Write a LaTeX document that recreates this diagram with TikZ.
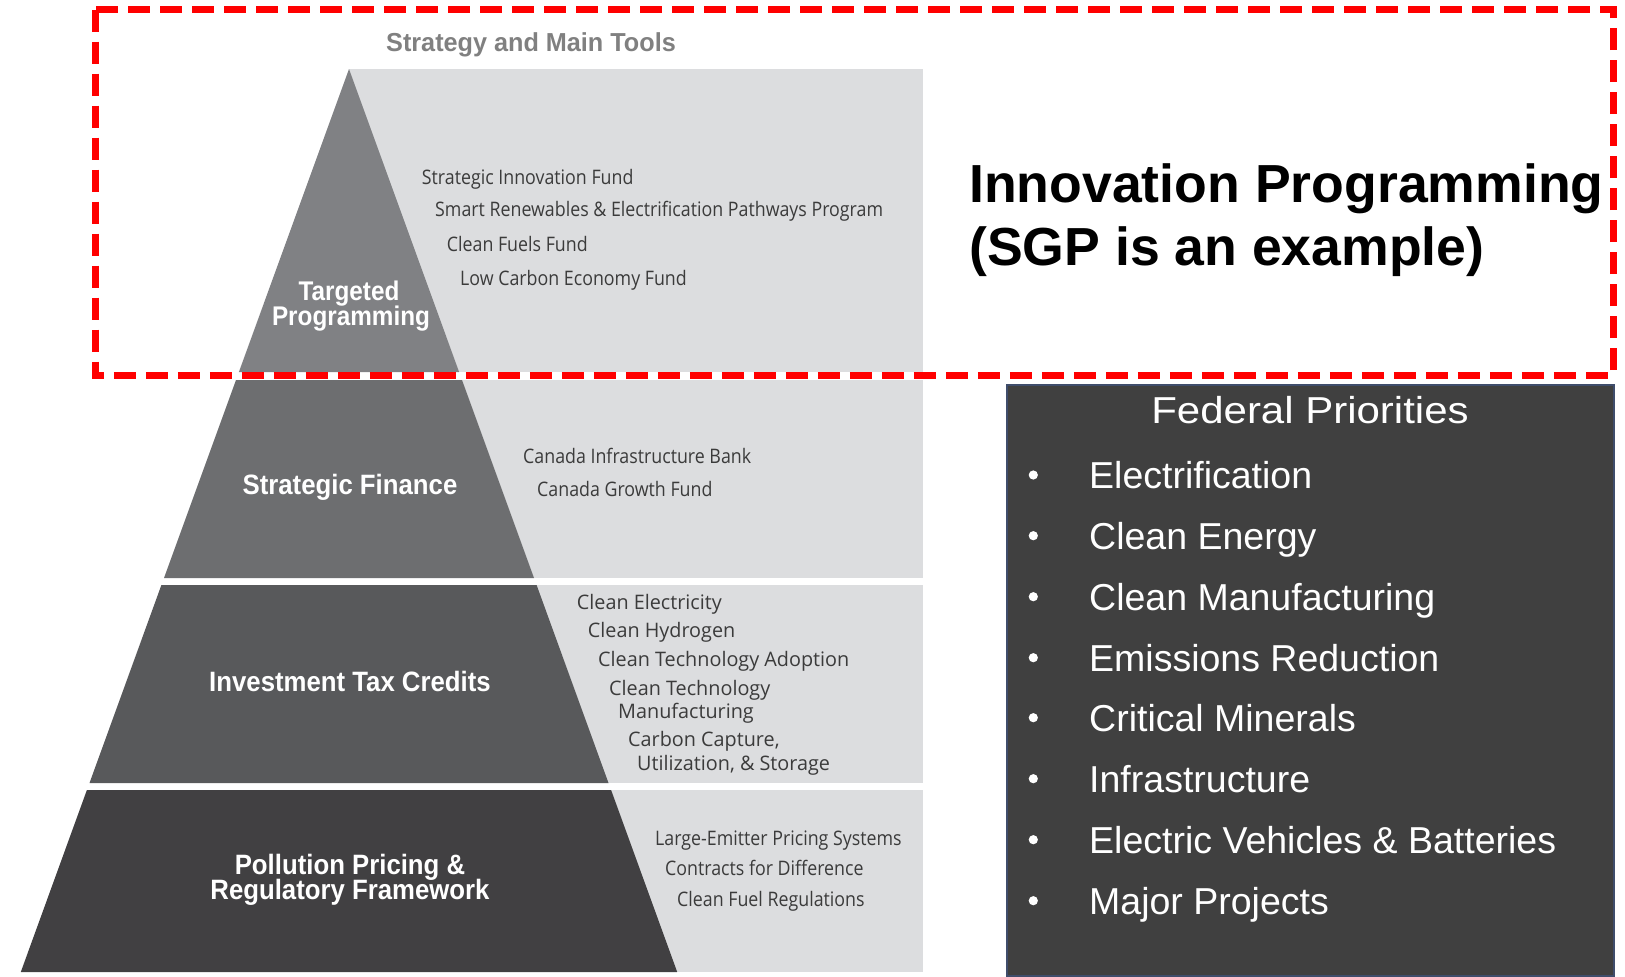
\documentclass[tikz,border=0pt]{standalone}
\usepackage{fontspec}
\setmainfont{Liberation Sans}
\newfontfamily\tierfont{Liberation Sans}[FakeStretch=0.92]
\newfontfamily\tiertopfont{Liberation Sans}[FakeStretch=0.9]
\newfontfamily\headfont{Liberation Sans}[FakeStretch=0.97]
\newfontfamily\toolfont{Open Sans}[FakeStretch=0.89]
\newfontfamily\toolwidefont{Open Sans}[FakeStretch=0.99]
\newfontfamily\fedheadfont{Liberation Sans}[FakeStretch=1.12]
\newfontfamily\fedfont{Liberation Sans}

\definecolor{tierA}{HTML}{808184}
\definecolor{tierB}{HTML}{6D6E70}
\definecolor{tierC}{HTML}{58595B}
\definecolor{tierD}{HTML}{414042}
\definecolor{panelgray}{HTML}{DCDDDF}
\definecolor{headgray}{HTML}{808080}
\definecolor{tooltext}{HTML}{3B3B3B}
\definecolor{fedfill}{HTML}{404040}
\definecolor{fededge}{HTML}{3F4D6B}
\definecolor{dashred}{HTML}{FF0000}

\tikzset{
  tool/.style={anchor=base west, inner sep=0pt, text=tooltext,
    font=\toolfont\fontsize{20}{24}\selectfont},
  toolwide/.style={anchor=base west, inner sep=0pt, text=tooltext,
    font=\toolwidefont\fontsize{20}{24}\selectfont},
  tierlabel/.style={anchor=base, inner sep=0pt, text=white,
    font=\tierfont\bfseries\fontsize{28}{30}\selectfont},
  tiertop/.style={anchor=base, inner sep=0pt, text=white,
    font=\tiertopfont\bfseries\fontsize{27}{30}\selectfont},
  fedhead/.style={anchor=base, inner sep=0pt, text=white,
    font=\fedheadfont\fontsize{37.5}{40}\selectfont},
  feditem/.style={anchor=base west, inner sep=0pt, text=white,
    font=\fedfont\fontsize{37.5}{40}\selectfont},
  bigtext/.style={anchor=base west, inner sep=0pt, text=black,
    font=\bfseries\fontsize{53.6}{60}\selectfont},
}

\begin{document}
\begin{tikzpicture}[x=1pt,y=-1pt]
\fill[white] (0,0) rectangle (1625,977);
\useasboundingbox (0,0) rectangle (1625,977);

% light panels behind each tier
\fill[panelgray] (349,69)  rectangle (923,372);
\fill[panelgray] (349,380) rectangle (923,578);
\fill[panelgray] (349,585) rectangle (923,783);
\fill[panelgray] (349,790) rectangle (923,972);

% pyramid tiers
\fill[tierA] (349,69) -- (459.1,372) -- (238.9,372) -- cycle;
\fill[tierB] (236,380) -- (462,380) -- (534,578) -- (164,578) -- cycle;
\fill[tierC] (161.4,585) -- (536.6,585) -- (608.5,783) -- (89.5,783) -- cycle;
\fill[tierD] (86.9,790) -- (611.1,790) -- (677.2,972) -- (20.8,972) -- cycle;

% heading
\node[anchor=base, inner sep=0pt, text=headgray,
  font=\headfont\bfseries\fontsize{26}{30}\selectfont]
  (head) at (531,51.7) {Strategy and Main Tools};

% tier labels
\node[tiertop] (tp1) at (349,300.7) {Targeted};
\node[tiertop] (tp2) at (351,325) {Programming};
\node[tierlabel] (sf) at (350,494) {Strategic Finance};
\node[tierlabel] (itc) at (350,691) {Investment Tax Credits};
\node[tierlabel] (pp1) at (350,874) {Pollution Pricing \&};
\node[tierlabel] (pp2) at (350,899.5) {Regulatory Framework};

% tools of each tier
\node[tool] (t1a) at (421.7,184)   {Strategic Innovation Fund};
\node[tool] (t1b) at (435,216.7)   {Smart Renewables \& Electrification Pathways Program};
\node[tool] (t1c) at (446.7,251.7) {Clean Fuels Fund};
\node[tool] (t1d) at (460,285)     {Low Carbon Economy Fund};

\node[tool] (t2a) at (523,463.3)   {Canada Infrastructure Bank};
\node[tool] (t2b) at (537,496.7)   {Canada Growth Fund};

\node[toolwide] (t3a) at (576.7,609) {Clean Electricity};
\node[toolwide] (t3b) at (587.7,637) {Clean Hydrogen};
\node[toolwide] (t3c) at (598,666)   {Clean Technology Adoption};
\node[toolwide] (t3d) at (609,695)   {Clean Technology};
\node[toolwide] (t3e) at (618,718)   {Manufacturing};
\node[toolwide] (t3f) at (628,746.7) {Carbon Capture,};
\node[toolwide] (t3g) at (637,770)   {Utilization, \& Storage};

\node[tool] (t4a) at (655,845)   {Large-Emitter Pricing Systems};
\node[tool] (t4b) at (665,875)   {Contracts for Difference};
\node[tool] (t4c) at (677,906.7) {Clean Fuel Regulations};

% highlighted innovation area
\draw[dashred, line width=7pt, dash pattern=on 22pt off 10pt]
  (95.3,9.5) rectangle (1613,375);
\node[bigtext] (ip1) at (969,202.7) {Innovation Programming};
\node[bigtext] (ip2) at (969,265)   {(SGP is an example)};

% federal priorities box
\draw[fededge, fill=fedfill, line width=2pt] (1007.3,384.5) rectangle (1614,976);
\node[fedhead] (fh) at (1310,423.3) {Federal Priorities};
\foreach \y/\txt [count=\i] in {488.3/Electrification, 549/Clean Energy,
    610/Clean Manufacturing, 671/Emissions Reduction, 731/Critical Minerals,
    792/Infrastructure, 853/Electric Vehicles \& Batteries, 914/Major Projects}{
  \fill[white] (1033.3,\y-13.3) circle (4.6);
  \node[feditem] (fp\i) at (1089,\y) {\txt};
}
\end{tikzpicture}
\end{document}
